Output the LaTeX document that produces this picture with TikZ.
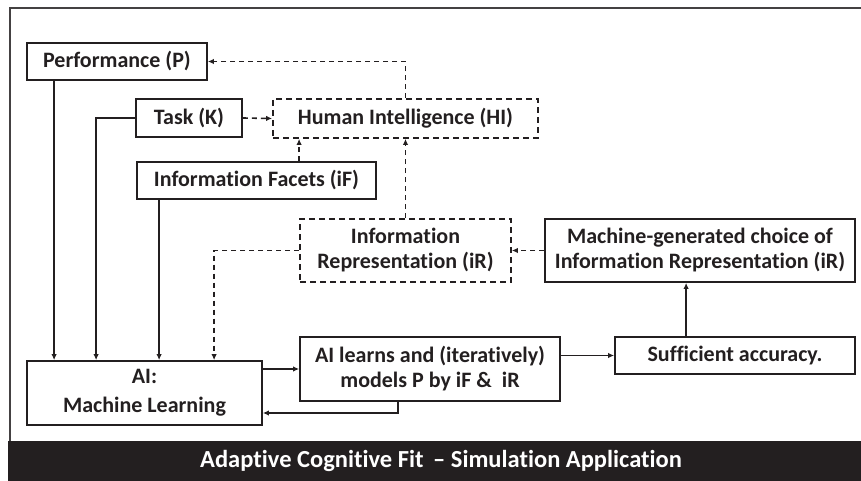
\documentclass[tikz,border=0pt]{standalone}
\usepackage{fontspec}
\setmainfont{Carlito}[Ligatures=NoCommon]
\usetikzlibrary{arrows.meta, positioning, calc}
\definecolor{ink}{HTML}{231F20}
\tikzset{
  box/.style={rectangle, draw=ink, line width=1.8pt, align=center, inner sep=2pt,
    font=\fontsize{22}{25}\selectfont\bfseries, text=ink},
  dbox/.style={box, dash pattern=on 6pt off 4pt},
  arrow/.style={-{Latex[length=6pt,width=5.5pt]}, line width=1.6pt, draw=ink},
  darrow/.style={arrow, dash pattern=on 5pt off 4pt}
}

\begin{document}
\begin{tikzpicture}[x=1pt, y=-1pt]
    \useasboundingbox (0,0) rectangle (861,481);
    % Frame and title band
    \draw[line width=2.2pt, ink!85] (861,8) -- (10,8) -- (10,441);
    \fill[ink] (8,441) rectangle (861,481);
    \node[text=white, font=\fontsize{24.5}{28}\selectfont\bfseries] (title) at (441,461)
        {Adaptive Cognitive Fit \,-- Simulation Application};

    % Inputs
    \node[box, minimum width=180, minimum height=37] (perf) at (117,61.5) {Performance (P)};
    \node[box, minimum width=106, minimum height=38] (task) at (189,118) {Task (K)};
    \node[dbox, minimum width=265, minimum height=39] (hi) at (405.5,118.5) {Human Intelligence (HI)};
    \node[box, minimum width=239, minimum height=37] (facets) at (256.5,180.5) {Information Facets (iF)};
    \node[dbox, minimum width=211, minimum height=63] (repr) at (405.5,250.5) {Information\\Representation (iR)};
    \node[box, minimum width=310, minimum height=63] (mgen) at (700,250.5) {Machine-generated choice of\\Information Representation (iR)};

    % Learning loop
    \node[box, minimum width=235, minimum height=64] (ml) at (144.5,393) {AI:\\[4pt]Machine Learning};
    \node[box, minimum width=260, minimum height=64] (learns) at (430,369) {AI learns and (iteratively)\\models P by iF \&\ \ iR};
    \node[box, minimum width=240, minimum height=37] (suff) at (735,355.5) {Sufficient accuracy.};

    % Arrows into AI
    \draw[arrow] ([xshift=28pt]perf.south west) -- ([xshift=28pt]ml.north west);
    \draw[arrow] (task.west) -| ([xshift=70pt]ml.north west);
    \draw[arrow] ([xshift=23pt]facets.south west) -- ([xshift=23pt]facets.south west |- ml.north);
    \draw[darrow] (repr.west) -| ([xshift=188pt]ml.north west);

    % Dashed feedback to HI
    \draw[darrow] (task.east) -- (hi.west);
    \draw[darrow] ([xshift=163pt]facets.north west) -- ([xshift=163pt]facets.north west |- hi.south);
    \draw[darrow] (repr.north) -- (hi.south);
    \draw[darrow] (hi.north) |- (perf.east);
    \draw[darrow] (mgen.west) -- (repr.east);

    % Loop arrows
    \draw[arrow] (ml.east |- learns.west) -- (learns.west);
    \draw[arrow] ([xshift=99pt]learns.south west) |- ([yshift=-20pt]ml.east);
    \draw[arrow] (learns.east |- suff.west) -- (suff.west);
    \draw[arrow] ([xshift=72pt]suff.north west) -- ([xshift=72pt]suff.north west |- mgen.south);
\end{tikzpicture}
\end{document}
